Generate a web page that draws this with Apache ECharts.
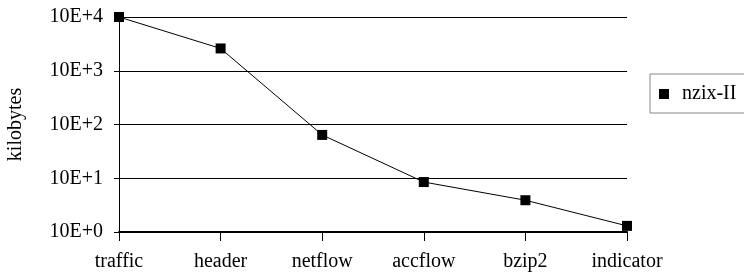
<!DOCTYPE html>
<html><head><meta charset="utf-8">
<script src="https://cdn.jsdelivr.net/npm/echarts@6/dist/echarts.min.js"></script>
<style>html,body{margin:0;padding:0;background:#fff}#c{width:744px;height:276px}</style>
</head><body><div id="c"></div>
<script>
const categories = ['traffic','header','netflow','accflow','bzip2','indicator'];
const seriesName = 'nzix-II';
const values = [10000, 2600, 64, 8.5, 3.9, 1.3];
const yTickLabels = {1:'10E+0',10:'10E+1',100:'10E+2',1000:'10E+3',10000:'10E+4'};
const yName = 'kilobytes';

const font = 'Liberation Serif, Times New Roman, serif';
const chart = echarts.init(document.getElementById('c'), null, {renderer:'canvas'});
chart.setOption({
  animation:false,
  backgroundColor:'#fff',
  grid:{left:119,right:117,top:17,bottom:44,containLabel:false,outerBoundsMode:'none'},
  legend:{
    data:[{name:seriesName, icon:'rect'}],
    left:650, top:74, itemWidth:10, itemHeight:10, itemGap:0,
    padding:[10,12,9,9], borderColor:'#888', borderWidth:1,
    textStyle:{fontFamily:font,fontSize:20,color:'#000',padding:[0,0,0,8]}
  },
  xAxis:{
    type:'category', data:categories, boundaryGap:false,
    axisLine:{lineStyle:{color:'#000',width:2}},
    axisTick:{show:true,length:9,alignWithLabel:true,lineStyle:{color:'#000',width:1}},
    axisLabel:{color:'#000',fontFamily:font,fontSize:20,margin:20},
    splitLine:{show:false}
  },
  yAxis:{
    type:'log', logBase:10, min:1, max:10000,
    name:yName, nameLocation:'middle', nameGap:93, nameRotate:90,
    nameTextStyle:{color:'#000',fontFamily:font,fontSize:20},
    axisLine:{show:true,lineStyle:{color:'#000',width:1}},
    axisTick:{show:true,length:5,lineStyle:{color:'#000'}},
    axisLabel:{color:'#000',fontFamily:font,fontSize:20,margin:16,
      formatter:v=>yTickLabels[Math.round(v)]||''},
    splitLine:{show:true,lineStyle:{color:'#000',width:1}}
  },
  series:[{
    name:seriesName, type:'line', data:values,
    symbol:'rect', symbolSize:10,
    itemStyle:{color:'#000'},
    lineStyle:{color:'#000',width:1}
  }]
});
</script></body></html>
